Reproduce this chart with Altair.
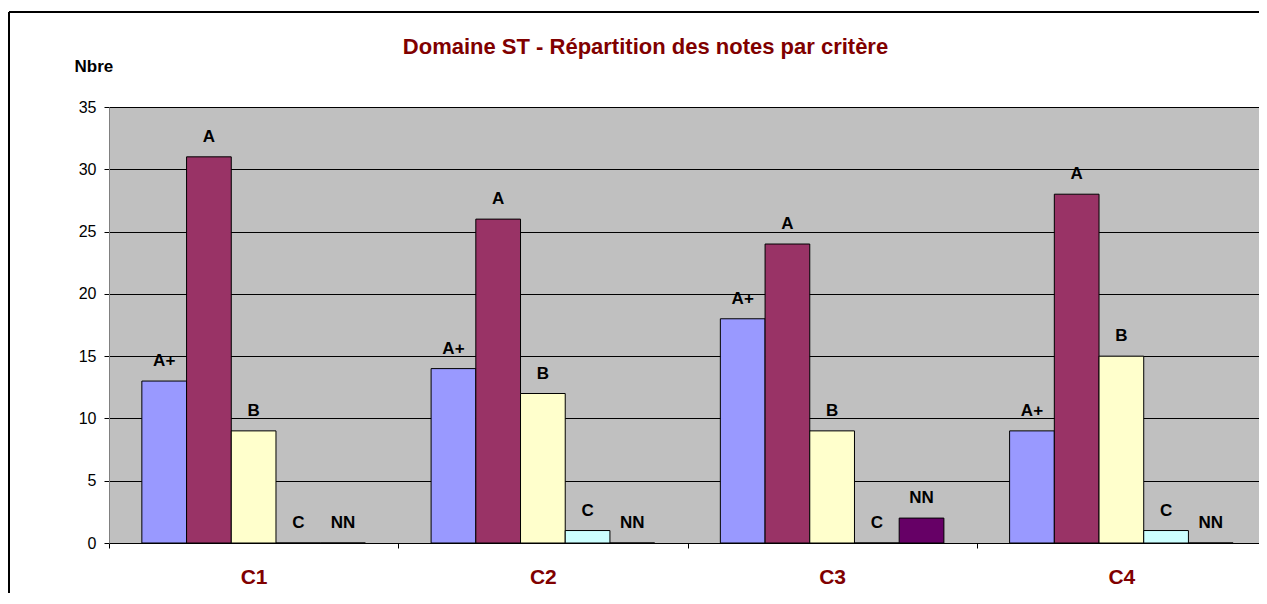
import altair as alt
import pandas as pd

criteres = ["C1", "C2", "C3", "C4"]
notes = ["A+", "A", "B", "C", "NN"]
vals_Aplus = [13, 14, 18, 9]
vals_A = [31, 26, 24, 28]
vals_B = [9, 12, 9, 15]
vals_C = [0, 1, 0, 1]
vals_NN = [0, 0, 2, 0]
couleurs = ["#9999FF", "#993366", "#FFFFCC", "#CCFFFF", "#660066"]
y_ticks = [0, 5, 10, 15, 20, 25, 30, 35]

series = [vals_Aplus, vals_A, vals_B, vals_C, vals_NN]
rows = []
for n, vals in zip(notes, series):
    for c, v in zip(criteres, vals):
        rows.append({"crit": c, "note": n, "val": v})
df = pd.DataFrame(rows)

FONT = "Liberation Sans"

base = alt.Chart(df).encode(
    x=alt.X(
        "crit:N",
        sort=criteres,
        scale=alt.Scale(paddingInner=0, paddingOuter=0),
        axis=alt.Axis(
            title=None,
            labelAngle=0,
            tickBand="extent",
            tickSize=5,
            tickColor="black",
            domainColor="black",
            labelFontSize=21,
            labelFontWeight="bold",
            labelColor="#800000",
            labelPadding=18,
            grid=False,
        ),
    ),
    xOffset=alt.XOffset(
        "note:N", sort=notes, scale=alt.Scale(paddingInner=0, paddingOuter=0.735)
    ),
    y=alt.Y(
        "val:Q",
        scale=alt.Scale(domain=[0, 35]),
        axis=alt.Axis(
            values=y_ticks,
            title="Nbre",
            titleAngle=0,
            titleAlign="left",
            titleBaseline="middle",
            titleX=-35,
            titleY=-41,
            titleFontSize=17,
            titleFontWeight="bold",
            titleColor="black",
            labelFontSize=16,
            labelColor="black",
            labelPadding=8,
            tickSize=5,
            tickColor="black",
            domainColor="#808080",
            grid=True,
            gridColor="black",
            gridWidth=1,
        ),
    ),
)

bars = base.mark_bar(stroke="black", strokeWidth=1).encode(
    color=alt.Color("note:N", scale=alt.Scale(domain=notes, range=couleurs), legend=None)
)

labels = base.mark_text(
    dy=-20, fontWeight="bold", fontSize=17, baseline="middle", color="black"
).encode(text="note:N")

frame_df = pd.DataFrame({"k": [0]})
frame_left = alt.Chart(frame_df).mark_rule(color="black", strokeWidth=2).encode(
    x=alt.value(-100), y=alt.value(-95), y2=alt.value(520)
)
frame_top = alt.Chart(frame_df).mark_rule(color="black", strokeWidth=2).encode(
    x=alt.value(-100), x2=alt.value(1170), y=alt.value(-95)
)

chart = (
    alt.layer(frame_left, frame_top, bars, labels)
    .properties(
        width=1157,
        height=436,
        title=alt.TitleParams(
            "Domaine ST - Répartition des notes par critère",
            fontSize=22,
            fontWeight="bold",
            color="#800000",
            anchor="middle",
            dx=-42,
            dy=52,
            offset=4,
        ),
        autosize=alt.AutoSizeParams(type="none"),
        padding={"left": 101, "top": 99, "right": -7, "bottom": 50},
    )
    .configure(font=FONT, background="white")
    .configure_view(fill="#C0C0C0", stroke="#808080", strokeWidth=1)
    .configure_axis(labelFont=FONT, titleFont=FONT)
    .configure_title(font=FONT)
)

chart.save("out.html", embed_options={"renderer": "svg", "actions": False})
